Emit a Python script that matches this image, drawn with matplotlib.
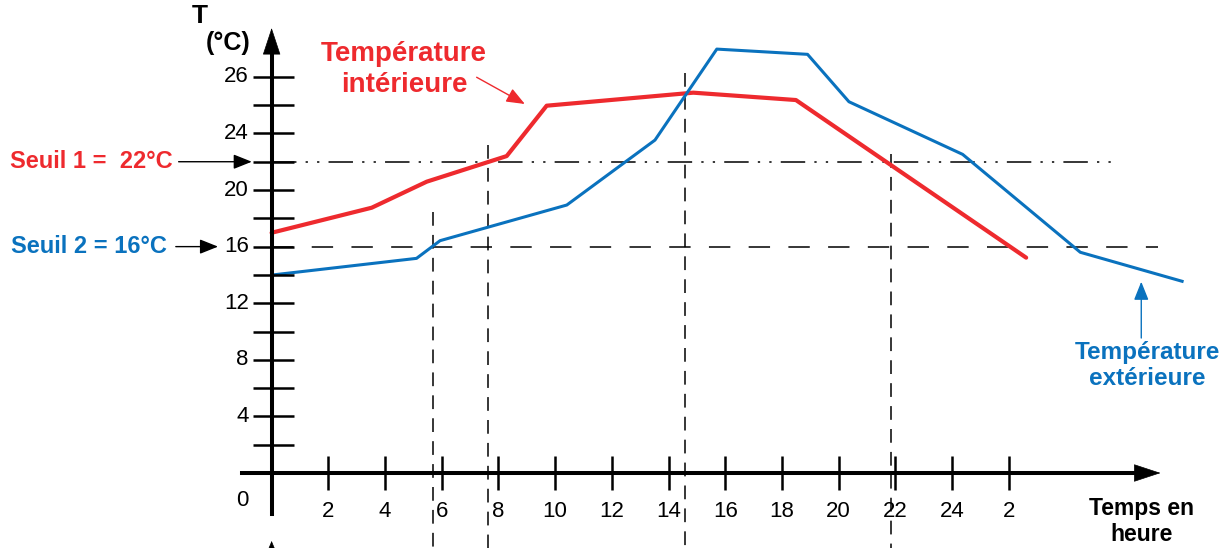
import matplotlib
matplotlib.use('Agg')
import matplotlib.pyplot as plt
import numpy as np

plt.rcParams['font.family'] = ['Liberation Sans', 'DejaVu Sans']

# data (hours, temperature units of the drawing)
int_hours = [0, 3.53, 5.47, 8.29, 9.70, 14.87, 18.49, 26.61]
int_temp = [16.98, 18.75, 20.59, 22.40, 25.96, 26.88, 26.36, 15.22]

ext_hours = [0, 5.11, 5.94, 10.41, 13.52, 15.70, 18.90, 20.36, 24.37, 28.52, 32.11]
ext_temp = [13.99, 15.17, 16.42, 18.94, 23.53, 29.96, 29.59, 26.24, 22.52, 15.60, 13.55]

seuil_values = [22, 16]
seuil_ends = [29.75, 31.26]

crossing_hours = [5.68, 7.62, 14.58, 21.83]
crossing_tops = [18.47, 23.18, 28.29, 22.54]

xtick_pos = [2, 4, 6, 8, 10, 12, 14, 16, 18, 20, 22, 24, 26]
xtick_labels = ['2', '4', '6', '8', '10', '12', '14', '16', '18', '20', '22', '24', '2']
ytick_pos = [4, 8, 12, 16, 20, 24, 28]
ytick_labels = ['4', '8', '12', '16', '20', '24', '26']

RED = '#EE2A2E'
BLUE = '#0A72BE'

fig = plt.figure(figsize=(12.32, 5.48), dpi=100)
ax = fig.add_axes([0, 0, 1, 1])
ax.set_xlim(-9.58, 33.87)
ax.set_ylim(-5.30, 33.43)
ax.axis('off')

# thresholds
ax.plot([0, seuil_ends[0]], [seuil_values[0]] * 2, color='k', lw=1.1,
        dashes=(16, 6, 1.5, 6, 1.5, 6))
ax.plot([0, seuil_ends[1]], [seuil_values[1]] * 2, color='k', lw=1.1,
        dashes=(14, 12))

# vertical crossing lines
for h, top in zip(crossing_hours, crossing_tops):
    ax.plot([h, h], [top, -6], color='k', lw=1.1, dashes=(9, 6))

# curves
ax.plot(int_hours, int_temp, color=RED, lw=3.0, solid_capstyle='round', zorder=4)
ax.plot(ext_hours, ext_temp, color=BLUE, lw=2.2, zorder=4)

# axes with arrows
ax.plot([-1.03, 30.5], [0, 0], color='k', lw=2.9, zorder=5)
ax.plot([0, 0], [-2.9, 30.5], color='k', lw=2.9, zorder=5)
ax.annotate('', xy=(31.35, 0), xytext=(30.0, 0),
            arrowprops=dict(arrowstyle='-|>,head_length=1.0,head_width=0.33',
                            mutation_scale=18, color='k', lw=0.5, shrinkA=0, shrinkB=0), zorder=6)
ax.annotate('', xy=(0, 31.45), xytext=(0, 29.0),
            arrowprops=dict(arrowstyle='-|>,head_length=1.0,head_width=0.33',
                            mutation_scale=18, color='k', lw=0.5, shrinkA=0, shrinkB=0), zorder=6)
ax.annotate('', xy=(0, -4.8), xytext=(0, -6.5),
            arrowprops=dict(arrowstyle='-|>,head_length=0.6,head_width=0.25',
                            mutation_scale=14, color='k', lw=0.5, shrinkA=0, shrinkB=0))

# ticks
ax.vlines(np.arange(2, 27, 2), -1.2, 1.2, color='k', lw=1.8, zorder=5)
ax.hlines(np.arange(2, 29, 2), -0.67, 0.78, color='k', lw=1.8, zorder=5)

for p, lab in zip(xtick_pos, xtick_labels):
    ax.text(p, -2.75, lab, fontsize=16, ha='center', va='center')
for p, lab in zip(ytick_pos, ytick_labels):
    ax.text(-0.81, p, lab, fontsize=16, ha='right', va='center')
ax.text(-1.03, -1.91, '0', fontsize=16, ha='center', va='center')

ax.text(-2.53, 32.3, 'T', fontsize=19, fontweight='bold', ha='center', va='center')
ax.text(-1.54, 30.4, '(°C)', fontsize=18, fontweight='bold', ha='center', va='center')

ax.text(30.67, -3.45, 'Temps en\nheure', fontsize=16.5, fontweight='bold',
        ha='center', va='center', linespacing=1.15)

# thresholds labels
ax.text(-3.48, 22, 'Seuil 1 =  22°C', fontsize=17, fontweight='bold', color=RED,
        ha='right', va='center')
ax.annotate('', xy=(-0.7, 22), xytext=(-3.28, 22),
            arrowprops=dict(arrowstyle='-|>,head_length=0.8,head_width=0.32',
                            mutation_scale=14, color='k', lw=1.0, shrinkA=0, shrinkB=0))
ax.text(-3.69, 16, 'Seuil 2 = 16°C', fontsize=17, fontweight='bold', color=BLUE,
        ha='right', va='center')
ax.annotate('', xy=(-1.89, 16), xytext=(-3.38, 16),
            arrowprops=dict(arrowstyle='-|>,head_length=0.8,head_width=0.32',
                            mutation_scale=14, color='k', lw=1.0, shrinkA=0, shrinkB=0))

# curve labels
ax.text(4.67, 28.5, 'Température\nintérieure', fontsize=20, fontweight='bold', color=RED,
        ha='center', va='center', linespacing=1.25)
ax.annotate('', xy=(8.93, 26.08), xytext=(7.23, 27.97),
            arrowprops=dict(arrowstyle='-|>,head_length=0.8,head_width=0.32',
                            mutation_scale=14, color=RED, lw=1.0, shrinkA=0, shrinkB=0))
ax.text(30.88, 7.6, 'Température\nextérieure', fontsize=17.5, fontweight='bold', color=BLUE,
        ha='center', va='center', linespacing=1.15)
ax.annotate('', xy=(30.67, 13.52), xytext=(30.67, 9.54),
            arrowprops=dict(arrowstyle='-|>,head_length=0.8,head_width=0.32',
                            mutation_scale=14, color=BLUE, lw=1.0, shrinkA=0, shrinkB=0))

fig.savefig('out.png', dpi=100)
